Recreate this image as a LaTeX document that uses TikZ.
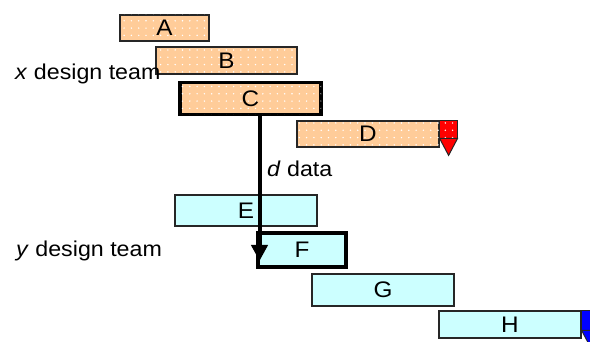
\documentclass[tikz,border=0pt]{standalone}
\usepackage{fontspec}
\setmainfont{Liberation Sans}[FakeStretch=1.08]
\usetikzlibrary{patterns.meta,arrows.meta,calc}
\definecolor{peach}{HTML}{FFCC99}
\definecolor{lcyan}{HTML}{CCFFFF}
\tikzset{
  bar/.style={draw=black!85, line width=1.2pt, inner sep=0pt, font=\fontsize{22.5}{24}\selectfont},
  dotted pat/.style={postaction={pattern={Dots[distance=7.3pt,radius=0.8pt]}, pattern color=white}},
  xbar/.style={bar, fill=peach, dotted pat},
  ybar/.style={bar, fill=lcyan},
  crit/.style={line width=3.8pt, draw=black},
  lbl/.style={anchor=base west, inner sep=0pt, font=\fontsize{21.5}{24}\selectfont},
  markbox/.style={draw=black!85, line width=1pt}
}
\begin{document}
\begin{tikzpicture}[x=1pt,y=-1pt]
\useasboundingbox (0,0) rectangle (590,342);
\clip (0,0) rectangle (590,342);
\node[xbar, minimum width=89pt, minimum height=26pt] (a) at (164.5,28) {A};
\node[xbar, minimum width=141pt, minimum height=27pt] (b) at (226.5,60.5) {B};
\node[xbar, crit, minimum width=141pt, minimum height=32pt] (c) at (250.5,98.5) {C};
\node[xbar, minimum width=142pt, minimum height=26pt] (d) at (368,134) {D};
\path[markbox, fill=red, dotted pat] (d.north east) rectangle ++(18,18);
\path[markbox, fill=red] ($(d.north east)+(0,18)$) -- ++(18,0) -- ++(-9,17) -- cycle;
\node[ybar, minimum width=142pt, minimum height=31pt] (e) at (246,210.5) {E};
\node[ybar, crit, minimum width=88pt, minimum height=34pt] (f) at (302,250) {F};
\node[ybar, minimum width=142pt, minimum height=32pt] (g) at (383,290) {G};
\node[ybar, minimum width=142pt, minimum height=27pt] (h) at (510,324.5) {H};
\path[markbox, fill=blue] (h.north east) rectangle ++(18,20);
\path[markbox, fill=blue] ($(h.north east)+(0,20)$) -- ++(18,0) -- ++(-9,17) -- cycle;
\node[lbl] (xt) at (15,80) {\textit{x} design team};
\node[lbl] (yt) at (16,257) {\textit{y} design team};
\node[lbl] (dd) at (267,177) {\textit{d} data};
\coordinate (dend) at (259.5,261);
\draw[line width=4pt, -{Triangle[width=16pt,length=16pt]}] (c.south -| dend) -- (dend);
\end{tikzpicture}
\end{document}
